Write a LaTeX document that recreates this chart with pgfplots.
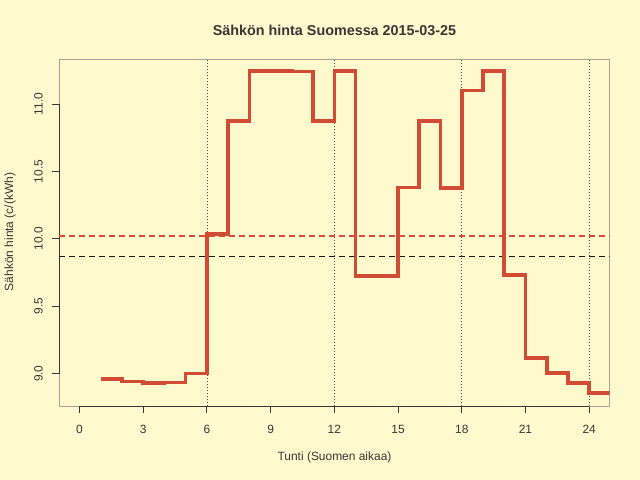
\documentclass[border=0pt]{standalone}
\usepackage{pgfplots}
\pgfplotsset{compat=1.18}
\usepackage{fontspec}
\setmainfont{Liberation Sans}
\definecolor{bg}{HTML}{FFFACD}
\definecolor{stepred}{HTML}{D24B35}
\definecolor{dashred}{HTML}{DC4A3C}
\definecolor{boxgray}{HTML}{A8A294}
\definecolor{axdark}{HTML}{3A3636}
\begin{document}
\begin{tikzpicture}[x=1bp,y=1bp]
\fill[bg] (0,0) rectangle (640,480);
\useasboundingbox (0,0) rectangle (640,480);
\node[font=\fontsize{14.4}{14.4}\selectfont\bfseries, text=axdark] at (334.5,450) {Sähkön hinta Suomessa 2015-03-25};
\node[font=\fontsize{12}{12}\selectfont, text=axdark] at (334.5,22.5) {Tunti (Suomen aikaa)};
\node[font=\fontsize{12}{12}\selectfont, text=axdark, rotate=90] at (10,248) {Sähkön hinta (c/(kWh)};
\begin{axis}[
  at={(59bp,73.7bp)}, anchor=south west,
  scale only axis, width=550.6bp, height=347.3bp,
  xmin=-0.96, xmax=24.96, ymin=8.758, ymax=11.334,
  axis line style={boxgray, line width=0.8bp},
  tick align=outside, major tick length=7bp,
  tick style={axdark, line width=0.8bp},
  xtick={0,3,...,24}, ytick={9,9.5,10,10.5,11},
  xtick pos=bottom, ytick pos=left,
  /pgf/number format/assume math mode=true,
  yticklabel={\pgfmathprintnumber[fixed,fixed zerofill,precision=1]{\tick}},
  xticklabel style={font=\fontsize{12}{12}\selectfont, text=axdark, anchor=center, yshift=-16bp},
  yticklabel style={font=\fontsize{12}{12}\selectfont, text=axdark, rotate=90, anchor=center, yshift=13.5bp},
  clip=true,
]
\draw[axdark, line width=0.8bp] (axis cs:0,8.758) -- (axis cs:24,8.758);
\draw[axdark, line width=0.8bp] (axis cs:-0.96,9) -- (axis cs:-0.96,11);
\foreach \v in {6,12,18,24} {
  \edef\temp{\noexpand\draw[black!70, line width=0.6bp, dash pattern=on 1bp off 2bp] (axis cs:\v,8.758) -- (axis cs:\v,11.334);}
  \temp
}
\addplot[dashred, line width=1.5bp, dash pattern=on 6bp off 4bp, forget plot] coordinates {(-0.96,10.022) (24.96,10.022)};
\addplot[black!90, line width=1.5bp, dash pattern=on 6bp off 4bp, forget plot] coordinates {(-0.96,9.87) (24.96,9.87)};
\addplot[stepred, line width=3.6bp, const plot, line join=miter, line cap=butt] coordinates {
(1,8.960) (2,8.943) (3,8.930) (4,8.935) (5,9.000) (6,10.035) (7,10.875) (8,11.243)
(9,11.247) (10,11.240) (11,10.873) (12,11.243) (13,9.723) (14,9.723) (15,10.380) (16,10.872)
(17,10.378) (18,11.100) (19,11.243) (20,9.730) (21,9.118) (22,9.005) (23,8.930) (24,8.857) (25,8.857)
};
\end{axis}
\end{tikzpicture}
\end{document}
